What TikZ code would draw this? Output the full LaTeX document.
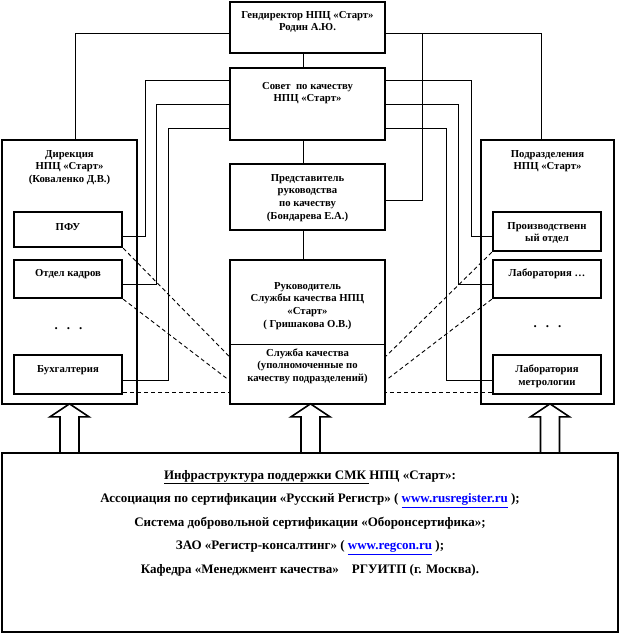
\documentclass[tikz,border=0pt]{standalone}
\usepackage{fontspec}
\setmainfont{Liberation Serif}
\usepackage{xcolor}
\usepackage{tikz}
\usetikzlibrary{positioning, calc}
\newcommand{\weblink}[1]{\textcolor{blue}{\underline{#1}}}

\begin{document}
\begin{tikzpicture}[x=1pt, y=-1pt, box/.style={draw, line width=2.4pt, fill=white, inner sep=0pt}, txt/.style={font=\fontsize{10.7}{12.7}\selectfont\bfseries, align=center, inner sep=0pt}, dots/.style={font=\fontsize{13}{13}\selectfont\bfseries, inner sep=0pt}, conn/.style={line width=0.9pt}, dconn/.style={line width=0.9pt, dash pattern=on 4pt off 3pt}, bigarr/.style={line width=1.6pt, fill=white, line join=miter}]
\useasboundingbox (0,0) rectangle (621,634);
% centre column
\node[box, minimum width=155pt, minimum height=51pt] (gd) at (307.5,27.5) {};
\node[box, minimum width=155pt, minimum height=72pt] (sov) at (307.5,104) {};
\node[box, minimum width=155pt, minimum height=66pt] (pred) at (307.5,197) {};
\node[box, minimum width=155pt, minimum height=144pt] (ruk) at (307.5,332) {};
\coordinate (rukmid) at (307.5,344);
% side columns
\node[box, minimum width=135pt, minimum height=264pt] (dir) at (69.5,272) {};
\node[box, minimum width=108pt, minimum height=35pt] (pfu) at (68,229.5) {};
\node[box, minimum width=108pt, minimum height=38pt] (kadr) at (68,279) {};
\node[box, minimum width=108pt, minimum height=39pt] (buh) at (68,374.5) {};
\node[box, minimum width=133pt, minimum height=264pt] (pod) at (547.5,272) {};
\node[box, minimum width=108pt, minimum height=39pt] (proizv) at (547,231.5) {};
\node[box, minimum width=108pt, minimum height=38pt] (lab) at (547,279) {};
\node[box, minimum width=108pt, minimum height=39pt] (metr) at (547,374.5) {};
\node[box, minimum width=616pt, minimum height=179pt] (infra) at (310,542.5) {};
% texts
\node[txt, below=10.2pt of gd.north] (gdT) {Гендиректор НПЦ «Старт»\\Родин А.Ю.};
\node[txt, below=15.2pt of sov.north] (sovT) {Совет~ по качеству\\НПЦ «Старт»};
\node[txt, below=11.2pt of pred.north] (predT) {Представитель\\руководства\\по качеству\\(Бондарева Е.А.)};
\node[txt, below=23.2pt of ruk.north] (rukT) {Руководитель\\Службы качества НПЦ\\«Старт»\\( Гришакова О.В.)};
\node[txt, below=4.2pt of rukmid] (slT) {Служба качества\\(уполномоченные по\\качеству подразделений)};
\node[txt, below=11.2pt of dir.north] (dirT) {Дирекция\\НПЦ «Старт»\\(Коваленко Д.В.)};
\node[txt, below=12.2pt of pfu.north] (pfuT) {ПФУ};
\node[txt, below=10.2pt of kadr.north] (kadrT) {Отдел кадров};
\node[txt, below=11.2pt of buh.north] (buhT) {Бухгалтерия};
\node[dots] (ldots) at (68.5,329) {.\hspace{9pt}.\hspace{9pt}.};
\node[txt, below=11.2pt of pod.north] (podT) {Подразделения\\НПЦ «Старт»};
\node[txt, below=11.2pt of proizv.north] (proizvT) {Производственн\\ый отдел};
\node[txt, below=10.2pt of lab.north] (labT) {Лаборатория …};
\node[txt, below=11.2pt of metr.north] (metrT) {Лаборатория\\метрологии};
\node[dots] (rdots) at (547.5,327) {.\hspace{9pt}.\hspace{9pt}.};
\node[txt, font=\fontsize{13}{23.5}\selectfont\bfseries, below=18.1pt of infra.north] (infraT) {\underline{Инфраструктура поддержки СМК\ }НПЦ «Старт»:\\Ассоциация по сертификации «Русский Регистр» ( \weblink{www.rusregister.ru} );\\Система добровольной сертификации «Оборонсертифика»;\\ЗАО «Регистр-консалтинг» ( \weblink{www.regcon.ru} );\\Кафедра «Менеджмент качества»\quad РГУИТП (г. Москва).};
% connectors
\draw[conn] ([xshift=-4.5pt]gd.south) -- ([xshift=-4.5pt]sov.north);
\draw[conn] ([xshift=-4.5pt]sov.south) -- ([xshift=-4.5pt]pred.north);
\draw[conn] ([xshift=-4.5pt]pred.south) -- ([xshift=-4.5pt]ruk.north);
\draw[conn] (ruk.west |- rukmid) -- (ruk.east |- rukmid);
\draw[conn] ([yshift=-5.5pt]gd.west) -| ([xshift=5.5pt]dir.north);
\draw[conn] ([yshift=-5.5pt]gd.east) -| ([xshift=-6.5pt]pod.north);
\draw[conn] ([yshift=-3pt]pred.east) -| ([xshift=36pt,yshift=-5.5pt]gd.east);
\draw[conn] ([yshift=24pt]sov.west) -- ++(-83,0) |- ([yshift=-6.5pt]pfu.east);
\draw[conn] (sov.west) -- ++(-72,0) |- ([yshift=-5pt]kadr.east);
\draw[conn] ([yshift=-24pt]sov.west) -- ++(-60,0) |- ([yshift=-5.5pt]buh.east);
\draw[conn] ([yshift=24pt]sov.east) -- ++(85,0) |- ([yshift=-4.5pt]proizv.west);
\draw[conn] (sov.east) -- ++(72,0) |- ([yshift=-5pt]lab.west);
\draw[conn] ([yshift=-24pt]sov.east) -- ++(60,0) |- ([yshift=-5.5pt]metr.west);
\draw[dconn] (pfu.south east) -- ([yshift=-24pt]ruk.west);
\draw[dconn] (kadr.south east) -- ([yshift=-48pt]ruk.west);
\draw[dconn] ([yshift=-17.5pt]buh.east) -- ([yshift=-60pt]ruk.west);
\draw[dconn] (proizv.south west) -- ([yshift=-24pt]ruk.east);
\draw[dconn] (lab.south west) -- ([yshift=-48pt]ruk.east);
\draw[dconn] ([yshift=-17.5pt]metr.west) -- ([yshift=-60pt]ruk.east);
% block arrows from the infrastructure box
\foreach \n/\dx in {dir/0, ruk/3, pod/2.5}
  \draw[bigarr] ($(infra.north -| \n.south)+(\dx-9.5,0)$) -- ++(0,-35) -- ++(-10,0) -- ++(19.5,-13) -- ++(19.5,13) -- ++(-10,0) -- ++(0,35);
\end{tikzpicture}
\end{document}
